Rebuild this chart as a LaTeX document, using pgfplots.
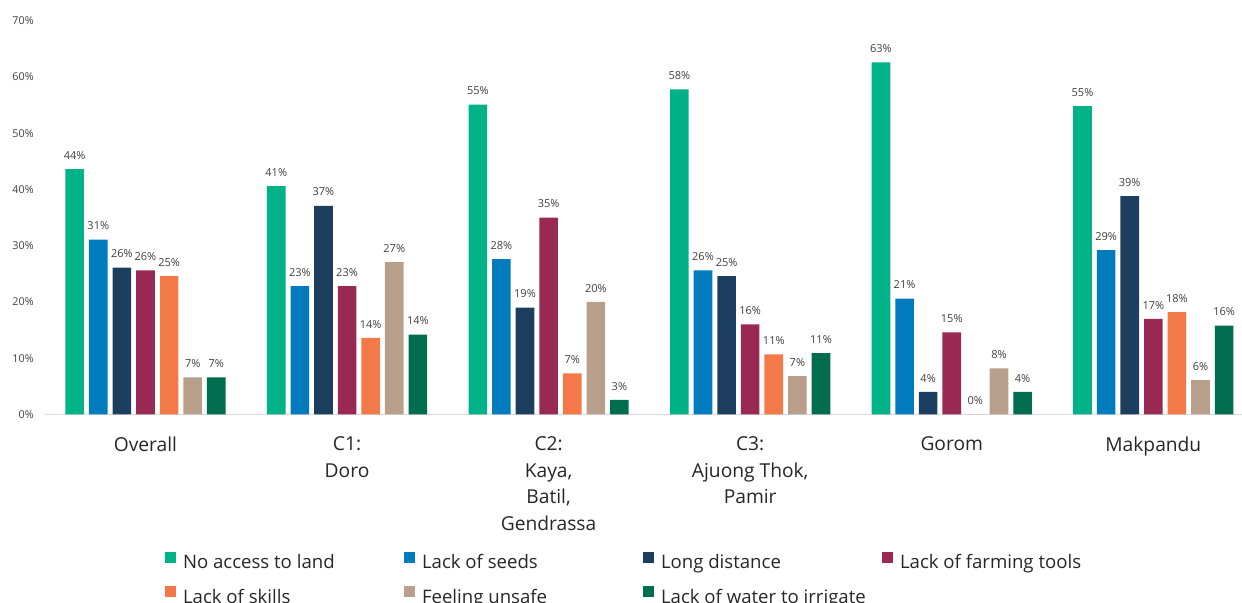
\documentclass[border=0pt]{standalone}
\usepackage{fontspec}
\setmainfont{Open Sans}
\usepackage{pgfplots}
\pgfplotsset{compat=1.18}

\definecolor{cLand}{RGB}{0,178,135}
\definecolor{cSeeds}{RGB}{0,123,190}
\definecolor{cDist}{RGB}{28,63,96}
\definecolor{cTools}{RGB}{153,41,83}
\definecolor{cSkills}{RGB}{244,121,73}
\definecolor{cUnsafe}{RGB}{184,159,139}
\definecolor{cWater}{RGB}{0,109,79}
\definecolor{tickgray}{RGB}{64,64,64}
\definecolor{labelgray}{RGB}{38,38,38}
\definecolor{axisgray}{RGB}{217,217,217}

% Share of respondents citing each barrier, per location (0 = Overall ... 5 = Makpandu)
\pgfplotstableread{
x  land  seeds  dist  tools  skills  unsafe  water
0  43.6  31.1   26.1  25.6   24.6    6.6     6.6
1  40.6  22.8   37.1  22.8   13.6    27.1    14.2
2  55.1  27.6   19.0  35.0   7.3     20.0    2.6
3  57.8  25.6   24.6  16.0   10.7    6.8     10.9
4  62.6  20.6   4.0   14.6   0.0     8.2     4.0
5  54.8  29.2   38.8  17.0   18.2    6.1     15.8
}\barriers

\begin{document}
\begin{tikzpicture}
\useasboundingbox (-22.35pt,-94.25pt) rectangle (598.65pt,207.25pt);
\begin{axis}[
  at={(0pt,0pt)}, anchor=south west,
  scale only axis, width=598.65pt, height=196.9pt,
  xmin=-0.5, xmax=5.44, ymin=0, ymax=70,
  /pgf/number format/assume math mode=true,
  axis x line=bottom, axis y line=left,
  x axis line style={-, draw=axisgray, line width=0.6pt},
  y axis line style={draw=none},
  major tick length=0pt,
  xtick style={draw=none}, ytick style={draw=none},
  ytick={0,10,...,70},
  yticklabel={\pgfmathprintnumber{\tick}\%},
  yticklabel style={font=\fontsize{5.4}{6}\selectfont, text=tickgray,
    anchor=east, inner sep=0pt, xshift=-5.3pt},
  xtick={0,...,5},
  xticklabels={Overall, {C1:\\Doro}, {C2:\\Kaya,\\Batil,\\Gendrassa},
    {C3:\\Ajuong Thok,\\Pamir}, Gorom, Makpandu},
  xticklabel style={align=center, font=\fontsize{9.6}{13.3}\selectfont,
    text=labelgray, anchor=north, inner sep=0pt, yshift=-11pt},
  ybar=2.5pt, bar width=9.3pt,
  nodes near coords={\pgfmathprintnumber[fixed,precision=0]{\pgfplotspointmeta}\%},
  every node near coord/.append style={font=\fontsize{5.5}{6}\selectfont,
    text=tickgray, anchor=south, inner sep=0pt, yshift=4.65pt},
  legend columns=4,
  legend image code/.code={\fill[#1] (0pt,0.6pt) rectangle (5.5pt,6.1pt);},
  legend style={at={(0.1005,-0.3480)}, anchor=north west, draw=none, fill=none,
    inner sep=0pt, outer sep=0pt, font=\fontsize{9.3}{11}\selectfont,
    text=labelgray, row sep=6.6pt,
    nodes={inner sep=0pt, text height=7pt, text depth=2.2pt},
    /tikz/every odd column/.append style={column sep=3.5pt}},
]
\addplot[fill=cLand, draw=none] table[x=x, y=land] {\barriers};
\addlegendentry{\makebox[110.5pt][l]{No access to land}}
\addplot[fill=cSeeds, draw=none] table[x=x, y=seeds] {\barriers};
\addlegendentry{\makebox[110.5pt][l]{Lack of seeds}}
\addplot[fill=cDist, draw=none] table[x=x, y=dist] {\barriers};
\addlegendentry{\makebox[110.5pt][l]{Long distance}}
\addplot[fill=cTools, draw=none] table[x=x, y=tools] {\barriers};
\addlegendentry{\makebox[110.5pt][l]{Lack of farming tools}}
\addplot[fill=cSkills, draw=none] table[x=x, y=skills] {\barriers};
\addlegendentry{\makebox[110.5pt][l]{Lack of skills}}
\addplot[fill=cUnsafe, draw=none] table[x=x, y=unsafe] {\barriers};
\addlegendentry{\makebox[110.5pt][l]{Feeling unsafe}}
\addplot[fill=cWater, draw=none] table[x=x, y=water] {\barriers};
\addlegendentry{\makebox[110.5pt][l]{Lack of water to irrigate}}
\end{axis}
\end{tikzpicture}
\end{document}
